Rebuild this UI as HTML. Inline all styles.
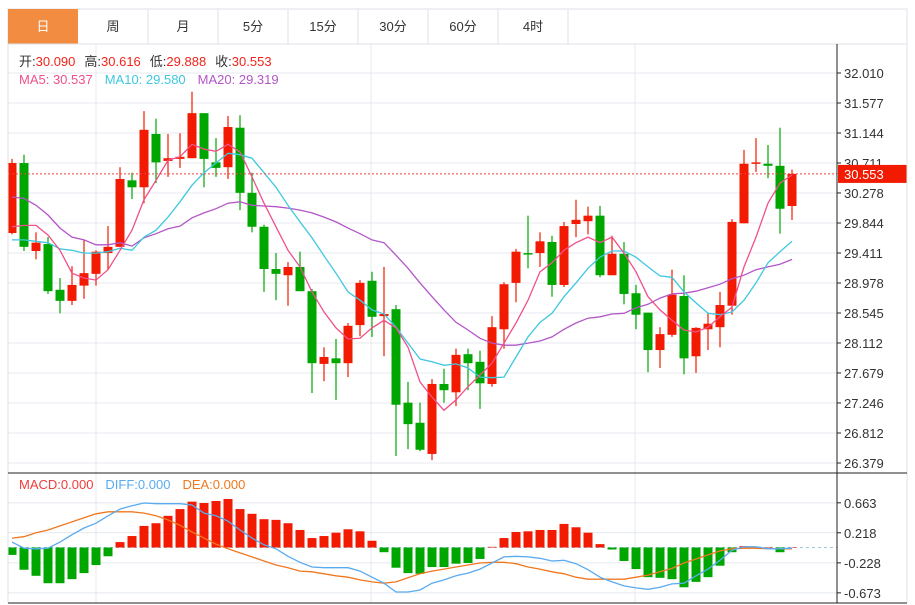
<!DOCTYPE html>
<html><head><meta charset="utf-8"><style>
body{margin:0;background:#fff;width:915px;height:605px;overflow:hidden;font-family:"Liberation Sans","Noto Sans CJK SC",sans-serif}
svg{position:absolute;left:0;top:0}
</style></head><body>
<svg id="chart" width="915" height="605" xmlns="http://www.w3.org/2000/svg" font-family="Liberation Sans, Noto Sans CJK SC, sans-serif">
  <g font-size="13" fill="#333">
    <rect x="8" y="9" width="899" height="35" fill="#fff" stroke="#dde2e8"/>
    <rect x="8" y="9" width="70" height="35" fill="#f28c40"/>
    <text x="43" y="31" text-anchor="middle" fill="#fff">日</text>
    <line x1="148" y1="9" x2="148" y2="44" stroke="#dde2e8"/><line x1="218" y1="9" x2="218" y2="44" stroke="#dde2e8"/>
    <line x1="288" y1="9" x2="288" y2="44" stroke="#dde2e8"/><line x1="358" y1="9" x2="358" y2="44" stroke="#dde2e8"/>
    <line x1="428" y1="9" x2="428" y2="44" stroke="#dde2e8"/><line x1="498" y1="9" x2="498" y2="44" stroke="#dde2e8"/>
    <line x1="568" y1="9" x2="568" y2="44" stroke="#dde2e8"/>
    <text x="113" y="31" text-anchor="middle">周</text>
    <text x="183" y="31" text-anchor="middle">月</text>
    <text x="253" y="31" text-anchor="middle">5分</text>
    <text x="323" y="31" text-anchor="middle">15分</text>
    <text x="393" y="31" text-anchor="middle">30分</text>
    <text x="463" y="31" text-anchor="middle">60分</text>
    <text x="533" y="31" text-anchor="middle">4时</text>
  </g>
  <g id="grid"></g>
  <g id="main"></g>
  <g id="macd"></g>
  <g fill="none">
    <line x1="8" y1="44" x2="8" y2="603" stroke="#dde2e8"/>
    <line x1="907" y1="44" x2="907" y2="603" stroke="#dde2e8"/>
    <line x1="837" y1="44" x2="837" y2="603" stroke="#222"/>
    <line x1="8" y1="473" x2="907" y2="473" stroke="#222"/>
    <line x1="8" y1="603" x2="907" y2="603" stroke="#222"/>
  </g>
  <g font-size="13">
    <text x="19" y="66"><tspan fill="#333">开:</tspan><tspan fill="#f0241a">30.090</tspan><tspan fill="#333" dx="9">高:</tspan><tspan fill="#f0241a">30.616</tspan><tspan fill="#333" dx="9">低:</tspan><tspan fill="#f0241a">29.888</tspan><tspan fill="#333" dx="9">收:</tspan><tspan fill="#f0241a">30.553</tspan></text>
    <text x="19" y="84"><tspan fill="#f0508c">MA5: 30.537</tspan><tspan fill="#3ec8e0" dx="12">MA10: 29.580</tspan><tspan fill="#b455c8" dx="12">MA20: 29.319</tspan></text>
    <text x="19" y="489"><tspan fill="#f03c3c">MACD:0.000</tspan><tspan fill="#5aaaf0" dx="12">DIFF:0.000</tspan><tspan fill="#f07820" dx="12">DEA:0.000</tspan></text>
  </g>
</svg>
<script>
const opens=[29.70,30.71,29.44,29.54,28.88,28.72,28.94,29.11,29.41,29.50,30.46,30.36,31.13,30.74,30.77,30.78,31.43,30.72,30.65,31.22,30.28,29.79,29.18,29.09,29.21,28.86,27.81,27.89,27.82,28.37,29.01,28.50,28.60,27.25,26.96,26.51,27.52,27.40,27.95,27.84,27.52,28.31,28.98,29.41,29.41,29.57,28.95,29.83,29.87,29.95,29.09,29.40,28.83,28.55,28.01,28.23,28.79,27.92,28.31,28.34,28.65,29.84,30.70,30.70,30.67,30.09];
const highs=[30.77,30.83,29.71,29.64,29.05,29.22,29.60,29.45,29.80,30.65,30.57,31.46,31.35,31.13,31.14,31.74,31.43,31.07,31.39,31.40,30.57,29.82,29.41,29.28,29.43,28.89,28.05,28.17,28.40,29.02,29.14,29.21,28.66,27.55,27.25,27.59,27.74,28.03,28.03,28.00,28.50,28.99,29.47,29.95,29.71,29.66,29.86,30.18,30.08,30.09,29.66,29.57,28.95,28.55,28.34,29.17,29.09,28.34,28.55,28.85,29.90,30.90,31.07,30.97,31.22,30.616];
const lows=[29.68,29.44,29.32,28.82,28.54,28.66,28.75,28.94,29.17,29.50,30.19,30.13,30.42,30.51,30.64,30.78,30.36,30.51,30.48,30.03,29.71,28.85,28.73,28.65,28.86,27.39,27.56,27.29,27.62,28.21,28.20,27.92,26.48,26.58,26.55,26.42,27.25,27.20,27.43,27.16,27.48,28.03,28.70,29.19,29.21,28.78,28.92,29.64,29.68,29.06,29.09,28.67,28.31,27.69,27.75,28.20,27.66,27.68,28.01,28.05,28.52,29.84,30.58,30.49,29.69,29.888];
const closes=[30.71,29.50,29.56,28.86,28.72,28.95,29.12,29.43,29.50,30.48,30.36,31.19,30.72,30.78,30.80,31.43,30.77,30.64,31.23,30.28,29.79,29.18,29.11,29.21,28.86,27.82,27.91,27.82,28.36,28.98,28.49,28.53,27.22,26.94,26.57,27.52,27.43,27.94,27.82,27.53,28.34,28.96,29.43,29.40,29.58,28.95,29.80,29.89,29.95,29.09,29.40,28.82,28.52,28.01,28.24,28.81,27.89,28.33,28.39,28.66,29.86,30.70,30.72,30.67,30.05,30.553];
const ma5=[29.79,29.81,29.81,29.67,29.45,29.12,29.05,29.02,29.17,29.45,29.74,30.18,30.46,30.75,30.80,30.98,30.91,30.88,30.98,30.87,30.51,30.13,29.79,29.45,29.21,28.85,28.56,28.33,28.17,28.18,28.33,28.44,28.33,28.05,27.55,27.33,27.14,27.29,27.48,27.65,27.82,28.11,28.40,28.73,29.14,29.27,29.45,29.56,29.64,29.56,29.64,29.41,29.14,28.78,28.59,28.44,28.30,28.27,28.34,28.49,28.63,29.21,29.64,30.13,30.42,30.537];
const ma10=[29.60,29.60,29.58,29.56,29.47,29.45,29.41,29.41,29.43,29.48,29.45,29.64,29.74,29.93,30.15,30.39,30.57,30.71,30.85,30.83,30.78,30.57,30.36,30.10,29.86,29.63,29.37,29.12,28.85,28.73,28.59,28.53,28.34,28.11,27.88,27.84,27.79,27.81,27.75,27.62,27.61,27.62,27.91,28.20,28.41,28.54,28.78,28.98,29.19,29.35,29.44,29.44,29.35,29.21,29.08,29.06,28.85,28.69,28.54,28.52,28.56,28.73,28.98,29.27,29.43,29.58];
const ma20=[30.22,30.20,30.10,29.96,29.77,29.64,29.60,29.53,29.53,29.56,29.51,29.63,29.69,29.76,29.80,29.92,29.99,30.05,30.13,30.15,30.10,30.09,30.08,30.06,30.03,29.99,29.93,29.86,29.77,29.69,29.60,29.56,29.38,29.19,28.98,28.78,28.59,28.41,28.30,28.18,28.11,28.08,28.08,28.11,28.14,28.20,28.31,28.40,28.47,28.49,28.53,28.54,28.62,28.67,28.76,28.82,28.83,28.86,28.91,28.96,29.04,29.09,29.17,29.21,29.25,29.319];
const macdHist=[-0.11,-0.33,-0.42,-0.53,-0.53,-0.47,-0.38,-0.26,-0.13,0.08,0.17,0.32,0.36,0.47,0.57,0.68,0.66,0.69,0.72,0.57,0.50,0.42,0.41,0.36,0.26,0.14,0.17,0.22,0.27,0.24,0.10,-0.07,-0.30,-0.38,-0.39,-0.29,-0.29,-0.24,-0.23,-0.17,0.01,0.14,0.23,0.24,0.26,0.26,0.35,0.30,0.22,0.05,-0.03,-0.20,-0.32,-0.44,-0.45,-0.47,-0.59,-0.51,-0.44,-0.27,-0.07,0.02,0.01,0.00,-0.07,0.00];
const diff=[0.08,-0.01,-0.02,-0.01,0.08,0.19,0.29,0.36,0.47,0.57,0.62,0.66,0.65,0.65,0.65,0.63,0.51,0.47,0.39,0.26,0.14,0.04,-0.02,-0.13,-0.22,-0.29,-0.30,-0.30,-0.30,-0.35,-0.44,-0.53,-0.66,-0.66,-0.63,-0.53,-0.48,-0.42,-0.38,-0.32,-0.23,-0.14,-0.13,-0.14,-0.16,-0.20,-0.19,-0.24,-0.33,-0.44,-0.51,-0.57,-0.60,-0.62,-0.59,-0.54,-0.53,-0.42,-0.32,-0.19,-0.04,0.01,0.01,-0.02,-0.02,-0.01];
const dea=[0.14,0.16,0.22,0.26,0.32,0.38,0.44,0.50,0.53,0.53,0.53,0.51,0.47,0.41,0.33,0.23,0.14,0.05,-0.02,-0.08,-0.14,-0.20,-0.26,-0.30,-0.35,-0.36,-0.39,-0.42,-0.44,-0.48,-0.51,-0.53,-0.51,-0.45,-0.39,-0.35,-0.32,-0.29,-0.26,-0.23,-0.22,-0.22,-0.24,-0.29,-0.32,-0.36,-0.39,-0.44,-0.47,-0.47,-0.47,-0.47,-0.44,-0.41,-0.36,-0.31,-0.23,-0.17,-0.11,-0.05,-0.02,-0.01,-0.01,-0.02,-0.02,-0.02];
const priceTicks=["32.010","31.577","31.144","30.711","30.278","29.844","29.411","28.978","28.545","28.112","27.679","27.246","26.812","26.379"];
const macdTicks=["0.663","0.218","-0.228","-0.673"];
const lastPrice=30.553;

const NS="http://www.w3.org/2000/svg";
const X=i=>12+i*12;
const PY=p=>73+(32.010-p)*69.26;
const MY=v=>547.5-v*67.4;
function mk(parent,tag,attrs){const e=document.createElementNS(NS,tag);for(const k in attrs)e.setAttribute(k,attrs[k]);parent.appendChild(e);return e;}
const grid=document.getElementById('grid'),main=document.getElementById('main'),mac=document.getElementById('macd');
// grid
priceTicks.forEach(t=>{const y=PY(parseFloat(t));
  const l=mk(grid,'line',{x1:8,x2:837,y1:y,y2:y,stroke:'#e4e9ef'});
  
  
  mk(grid,'line',{x1:837,x2:841,y1:y,y2:y,stroke:'#222'});
  const tx=mk(grid,'text',{x:844,y:y+5,'font-size':13,fill:'#333'});tx.textContent=t;
  
  
});
macdTicks.forEach(t=>{const y=MY(parseFloat(t));
  const l=mk(grid,'line',{x1:8,x2:837,y1:y,y2:y,stroke:'#e4e9ef'});
  
  
  mk(grid,'line',{x1:837,x2:841,y1:y,y2:y,stroke:'#222'});
  const tx=mk(grid,'text',{x:844,y:y+5,'font-size':13,fill:'#333'});tx.textContent=t;
  
  
});
[96,371,635].forEach(x=>{mk(grid,'line',{x1:x,x2:x,y1:44,y2:603,stroke:'#e4e9ef'});});
mk(grid,'line',{x1:8,x2:837,y1:44,y2:44,stroke:'#dde2e8'});
const zl=mk(grid,'line',{x1:8,x2:837,y1:MY(0),y2:MY(0),stroke:'#9cc8e0','stroke-dasharray':'3,3'});


// candles
const RED='#f21a00',GREEN='#00a600';
for(let i=0;i<opens.length;i++){
  const up=closes[i]>=opens[i],c=up?RED:GREEN,x=X(i);
  const g=mk(main,'g',{});
  
  
  mk(g,'line',{x1:x,x2:x,y1:PY(highs[i]),y2:PY(lows[i]),stroke:c,'stroke-width':1.2});
  const top=PY(Math.max(opens[i],closes[i])),bot=PY(Math.min(opens[i],closes[i]));
  mk(g,'rect',{x:x-4.5,y:top,width:9,height:Math.max(bot-top,1.5),fill:c});
}
function line(parent,arr,yf,color,name){
  const d=arr.map((v,i)=>(i?'L':'M')+X(i)+','+yf(v).toFixed(1)).join('');
  const p=mk(parent,'path',{d:d,fill:'none',stroke:color,'stroke-width':1.3});
  
  
}
line(main,ma20,PY,'#b455c8','ma20-line');
line(main,ma10,PY,'#3ec8e0','ma10-line');
line(main,ma5,PY,'#f0508c','ma5-line');
// last price
const ly=PY(lastPrice);
const dl=mk(main,'line',{x1:8,x2:837,y1:ly,y2:ly,stroke:'#f04040','stroke-dasharray':'2,2'});


const lb=mk(main,'rect',{x:838,y:ly-9,width:69,height:18,fill:'#f21a00'});


const lt=mk(main,'text',{x:844,y:ly+5,'font-size':13,fill:'#fff'});lt.textContent=lastPrice.toFixed(3);
// macd
for(let i=0;i<macdHist.length;i++){
  const v=macdHist[i],y0=MY(0),y1=MY(v);
  const r=mk(mac,'rect',{x:X(i)-4.5,y:Math.min(y0,y1),width:9,height:Math.max(Math.abs(y1-y0),0.5),fill:v>=0?RED:GREEN});
  
  
}
line(mac,dea,MY,'#f07820','dea-line');
line(mac,diff,MY,'#5aaaf0','diff-line');
</script>
</body></html>
